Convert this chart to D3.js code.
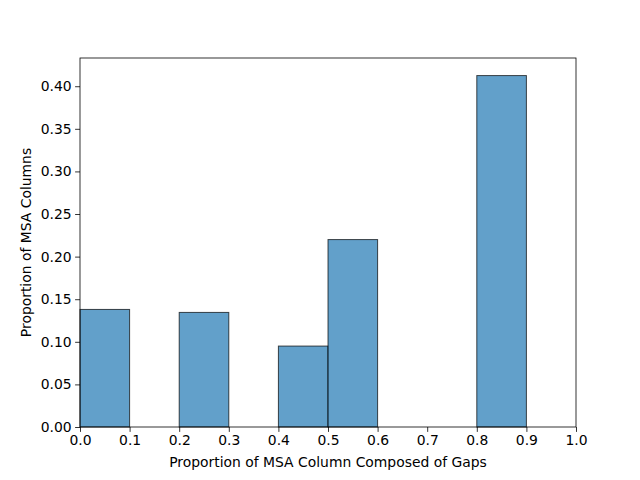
<!DOCTYPE html>
<html><head><meta charset="utf-8">
<script src="https://cdn.jsdelivr.net/npm/d3@7"></script>
<style>body{margin:0;background:#fff}svg{display:block}text{font-family:"DejaVu Sans",sans-serif}</style>
</head><body><div id="c"></div>
<script>
const binStarts = [0.0, 0.2, 0.4, 0.5, 0.8];
const binEnds   = [0.1, 0.3, 0.5, 0.6, 0.9];
const proportions = [0.138, 0.1345, 0.095, 0.22, 0.4125];
const xTicks = [0,0.1,0.2,0.3,0.4,0.5,0.6,0.7,0.8,0.9,1.0];
const yTicks = [0,0.05,0.10,0.15,0.20,0.25,0.30,0.35,0.40];
const xLabel = "Proportion of MSA Column Composed of Gaps";
const yLabel = "Proportion of MSA Columns";

const W=640,H=480,L=80,R=576,T=58,B=427;
const svg=d3.select("#c").append("svg").attr("width",W).attr("height",H);
const x=d3.scaleLinear().domain([0,1]).range([L,R]);
const yMax=d3.max(proportions)*1.05;
const y=d3.scaleLinear().domain([0,yMax]).range([B,T]);

const data=binStarts.map((s,i)=>({s,e:binEnds[i],v:proportions[i]}));
svg.append("g").selectAll("rect").data(data).join("rect")
  .attr("x",d=>x(d.s)).attr("y",d=>y(d.v))
  .attr("width",d=>x(d.e)-x(d.s)).attr("height",d=>y(0)-y(d.v))
  .attr("fill","#1f77b4").attr("fill-opacity",0.7)
  .attr("stroke","#000").attr("stroke-opacity",0.7).attr("stroke-width",1);

const xa=svg.append("g").attr("transform",`translate(0,${B})`)
  .call(d3.axisBottom(x).tickValues(xTicks).tickFormat(d3.format(".1f")).tickSizeOuter(0).tickSize(4.9).tickPadding(3.5));
const ya=svg.append("g").attr("transform",`translate(${L},0)`)
  .call(d3.axisLeft(y).tickValues(yTicks).tickFormat(d3.format(".2f")).tickSizeOuter(0).tickSize(4.9).tickPadding(3.5));
[xa,ya].forEach(a=>{a.select(".domain").remove();a.selectAll("text").attr("font-size","13.9px").attr("fill","#000").style("font-family","'DejaVu Sans',sans-serif");a.selectAll("line").attr("stroke","#000").attr("stroke-width",0.8);});

svg.append("rect").attr("x",L).attr("y",T).attr("width",R-L).attr("height",B-T)
  .attr("fill","none").attr("stroke","#000").attr("stroke-width",0.8);

svg.append("text").attr("x",(L+R)/2).attr("y",467).attr("text-anchor","middle").attr("font-size","13.9px").text(xLabel);
svg.append("text").attr("transform",`translate(31,${(T+B)/2}) rotate(-90)`).attr("text-anchor","middle").attr("font-size","13.9px").text(yLabel);
</script></body></html>
